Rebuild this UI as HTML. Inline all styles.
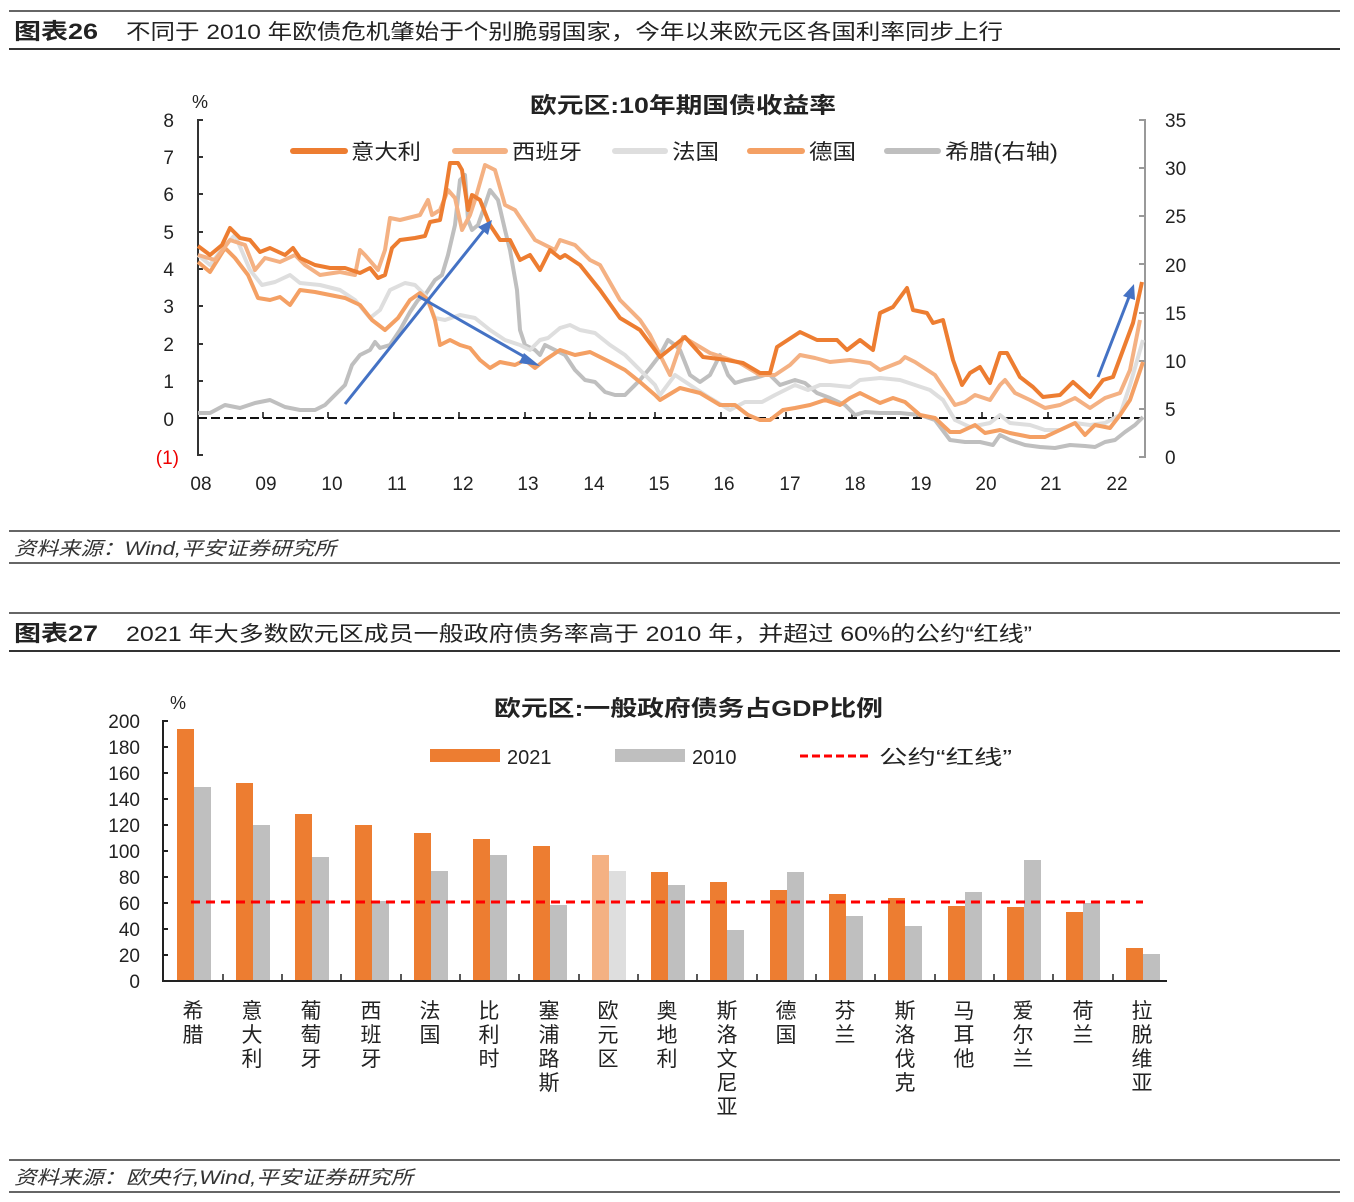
<!DOCTYPE html>
<html><head><meta charset="utf-8"><style>
body{margin:0;background:#fff;width:1354px;height:1202px;overflow:hidden}
svg{display:block}
text{font-family:"Liberation Sans","Noto Sans CJK SC",sans-serif;fill:#222}
</style></head><body>
<svg width="1354" height="1202" viewBox="0 0 1354 1202" xmlns="http://www.w3.org/2000/svg">
<!-- headers -->
<line x1="9" y1="11" x2="1340" y2="11" stroke="#333" stroke-width="1.5"/>
<line x1="9" y1="49" x2="1340" y2="49" stroke="#333" stroke-width="2"/>
<text x="14" y="39" font-size="22" font-weight="bold" textLength="84" lengthAdjust="spacingAndGlyphs">图表26</text>
<text x="126" y="39" font-size="21" textLength="877" lengthAdjust="spacingAndGlyphs">不同于 2010 年欧债危机肇始于个别脆弱国家，今年以来欧元区各国利率同步上行</text>
<line x1="9" y1="531" x2="1340" y2="531" stroke="#333" stroke-width="1.5"/>
<line x1="9" y1="563" x2="1340" y2="563" stroke="#333" stroke-width="1.5"/>
<text x="14" y="555" font-size="19" font-style="italic" style="fill:#333" textLength="322" lengthAdjust="spacingAndGlyphs">资料来源：Wind,平安证券研究所</text>

<line x1="9" y1="613" x2="1340" y2="613" stroke="#333" stroke-width="1.5"/>
<line x1="9" y1="651" x2="1340" y2="651" stroke="#333" stroke-width="2"/>
<text x="14" y="641" font-size="22" font-weight="bold" textLength="84" lengthAdjust="spacingAndGlyphs">图表27</text>
<text x="126" y="641" font-size="21" textLength="906" lengthAdjust="spacingAndGlyphs">2021 年大多数欧元区成员一般政府债务率高于 2010 年，并超过 60%的公约“红线”</text>
<line x1="9" y1="1160" x2="1340" y2="1160" stroke="#333" stroke-width="1.5"/>
<line x1="9" y1="1192" x2="1340" y2="1192" stroke="#333" stroke-width="1.5"/>
<text x="14" y="1184" font-size="19" font-style="italic" style="fill:#333" textLength="399" lengthAdjust="spacingAndGlyphs">资料来源：欧央行,Wind,平安证券研究所</text>

<!-- chart 1 -->
<text x="530" y="113" font-size="22" font-weight="bold" textLength="306" lengthAdjust="spacingAndGlyphs">欧元区:10年期国债收益率</text>
<text x="192" y="108" font-size="18">%</text>
<g font-size="19" text-anchor="end">
<text x="174" y="127">8</text><text x="174" y="164">7</text><text x="174" y="201">6</text><text x="174" y="239">5</text><text x="174" y="276">4</text><text x="174" y="313">3</text><text x="174" y="351">2</text><text x="174" y="388">1</text><text x="174" y="426">0</text><text x="179" y="464" style="fill:#e00">(1)</text>
</g>
<g font-size="19">
<text x="1165" y="127">35</text><text x="1165" y="175">30</text><text x="1165" y="223">25</text><text x="1165" y="272">20</text><text x="1165" y="320">15</text><text x="1165" y="368">10</text><text x="1165" y="416">5</text><text x="1165" y="464">0</text>
</g>
<g font-size="19" text-anchor="middle">
<text x="201" y="490">08</text><text x="266" y="490">09</text><text x="332" y="490">10</text><text x="397" y="490">11</text><text x="463" y="490">12</text><text x="528" y="490">13</text><text x="594" y="490">14</text><text x="659" y="490">15</text><text x="724" y="490">16</text><text x="790" y="490">17</text><text x="855" y="490">18</text><text x="921" y="490">19</text><text x="986" y="490">20</text><text x="1051" y="490">21</text><text x="1117" y="490">22</text>
</g>
<path d="M203,120H198V455H203 M198,157h5M198,194h5M198,232h5M198,269h5M198,306h5M198,344h5M198,381h5" stroke="#333" stroke-width="2" fill="none"/>
<path d="M1139,120H1145V457H1139 M1145,168h-6M1145,216h-6M1145,264h-6M1145,313h-6M1145,361h-6M1145,409h-6" stroke="#999" stroke-width="2" fill="none"/>
<line x1="198" y1="418" x2="1143" y2="418" stroke="#111" stroke-width="2" stroke-dasharray="9,4"/>
<path d="M263,418v-6M328,418v-6M394,418v-6M459,418v-6M525,418v-6M590,418v-6M655,418v-6M721,418v-6M786,418v-6M852,418v-6M917,418v-6M982,418v-6M1048,418v-6M1113,418v-6" stroke="#111" stroke-width="1.5"/>
<!-- legend -->
<g stroke-width="6" stroke-linecap="round">
<line x1="293" y1="151" x2="345" y2="151" stroke="#ED7D31"/>
<line x1="455" y1="151" x2="505" y2="151" stroke="#F4B183"/>
<line x1="615" y1="151" x2="665" y2="151" stroke="#DEDEDE"/>
<line x1="750" y1="151" x2="802" y2="151" stroke="#F4A064"/>
<line x1="887" y1="151" x2="938" y2="151" stroke="#BFBFBF"/>
</g>
<g font-size="21"><text x="351" y="159" textLength="70" lengthAdjust="spacingAndGlyphs">意大利</text><text x="512" y="159" textLength="70" lengthAdjust="spacingAndGlyphs">西班牙</text><text x="672" y="159" textLength="47" lengthAdjust="spacingAndGlyphs">法国</text><text x="809" y="159" textLength="47" lengthAdjust="spacingAndGlyphs">德国</text><text x="945" y="159" textLength="113" lengthAdjust="spacingAndGlyphs">希腊(右轴)</text></g>
<g fill="none" stroke-width="4" stroke-linejoin="round">
<polyline stroke="#BFBFBF" points="198,413 210,413 225,405 240,408 255,403 270,400 285,407 300,410 315,410 325,405 335,395 345,385 352,365 360,355 370,350 375,342 380,348 390,345 400,330 410,312 418,300 425,295 435,280 442,275 448,255 455,225 460,180 465,175 468,220 472,230 478,225 485,205 490,190 498,200 505,230 510,250 517,290 520,330 525,345 535,350 540,355 545,345 555,350 565,355 575,370 585,380 595,382 605,392 615,395 625,395 630,390 640,380 650,368 660,355 668,340 675,345 680,350 690,375 700,382 710,375 720,355 728,375 735,383 745,380 755,378 765,375 770,375 780,385 795,380 805,383 817,393 830,398 845,405 855,415 865,412 880,413 900,413 920,415 935,420 950,440 965,442 980,442 993,445 1000,435 1010,440 1025,445 1040,447 1055,448 1070,445 1085,446 1095,447 1105,442 1115,440 1125,432 1135,425 1143,417"/>
<polyline stroke="#DEDEDE" points="198,255 210,265 225,245 235,235 250,270 262,285 275,282 290,275 300,283 320,285 340,290 355,300 370,318 380,310 390,290 405,283 415,285 425,295 435,318 445,320 460,315 475,318 490,330 505,340 520,345 530,350 540,340 548,338 560,328 570,325 580,330 595,333 610,345 625,355 640,370 655,385 660,395 675,375 690,385 710,398 730,410 745,402 762,402 775,395 795,385 808,390 820,385 830,385 850,387 860,380 880,378 900,380 915,385 930,390 943,400 955,420 970,427 990,423 1000,415 1010,423 1030,425 1045,430 1060,430 1075,423 1090,425 1105,423 1120,415 1130,385 1143,340"/>
<polyline stroke="#F4A064" points="198,262 210,272 225,248 235,258 248,275 258,298 270,300 280,297 290,305 300,290 315,292 330,295 345,298 360,305 372,320 385,330 398,318 410,300 420,293 428,300 435,320 440,345 450,340 460,345 470,348 480,360 490,368 500,362 515,365 525,360 535,368 545,360 560,350 575,355 590,352 610,362 625,370 640,382 655,395 660,400 680,388 700,393 720,405 735,405 748,415 760,420 770,420 783,410 795,408 810,405 825,400 840,405 850,398 860,393 880,403 893,398 905,402 920,415 935,418 950,432 960,432 975,425 985,433 1000,430 1010,433 1030,437 1045,437 1060,430 1075,423 1085,435 1095,425 1110,428 1120,415 1130,400 1143,362"/>
<polyline stroke="#F4B183" points="198,255 215,260 230,240 245,245 255,270 265,258 280,262 295,255 305,265 320,275 340,272 355,275 360,250 365,255 378,270 385,250 390,218 400,220 420,215 428,200 432,215 440,210 448,190 455,198 462,230 470,215 475,200 485,165 495,170 505,205 515,210 525,225 535,240 545,245 555,250 560,240 575,245 590,260 600,265 620,300 640,320 650,335 660,355 670,375 683,337 700,347 710,353 740,363 760,375 775,375 790,365 800,355 815,358 830,362 850,360 870,363 880,370 900,362 905,357 915,362 935,375 945,390 955,405 965,402 975,395 990,400 1000,385 1005,380 1015,393 1030,400 1045,408 1060,405 1075,398 1090,408 1105,398 1120,393 1130,370 1140,320"/>
<polyline stroke="#ED7D31" points="198,246 210,255 222,245 230,228 240,238 250,240 260,252 270,248 285,255 293,248 300,258 315,265 330,268 345,268 360,273 370,268 378,278 385,275 392,248 400,240 415,238 425,236 430,222 440,220 445,195 450,163 458,163 462,170 468,210 472,195 480,200 490,225 500,240 510,240 520,260 530,255 540,270 550,250 560,258 565,255 580,265 600,290 620,318 640,330 655,350 660,357 685,337 703,357 727,360 743,363 760,373 770,373 777,347 800,332 817,340 837,340 847,350 860,340 873,350 880,313 893,307 907,288 913,310 927,313 933,323 943,320 953,360 962,385 970,373 980,367 990,383 1000,353 1007,353 1020,377 1033,387 1043,397 1060,395 1073,382 1090,397 1103,380 1113,377 1123,350 1133,323 1142,282"/>
</g>
<g stroke="#4472C4" stroke-width="3" fill="#4472C4">
<line x1="345" y1="404" x2="484" y2="230"/><polygon points="492,220 478,227 488,235" stroke="none"/>
<line x1="418" y1="296" x2="530" y2="360"/><polygon points="540,366 524,353 519,363" stroke="none"/>
<line x1="1098" y1="377" x2="1129" y2="297"/><polygon points="1134,284 1123,296 1135,300" stroke="none"/>
</g>

<!-- chart 2 -->
<text x="494" y="716" font-size="22" font-weight="bold" textLength="389" lengthAdjust="spacingAndGlyphs">欧元区:一般政府债务占GDP比例</text>
<text x="170" y="709" font-size="18">%</text>
<g font-size="19" text-anchor="end">
<text x="140" y="728">200</text><text x="140" y="754">180</text><text x="140" y="780">160</text><text x="140" y="806">140</text><text x="140" y="832">120</text><text x="140" y="858">100</text><text x="140" y="884">80</text><text x="140" y="910">60</text><text x="140" y="936">40</text><text x="140" y="962">20</text><text x="140" y="988">0</text>
</g>
<rect x="430" y="749" width="70" height="13" fill="#ED7D31"/><text x="507" y="764" font-size="20">2021</text>
<rect x="615" y="749" width="70" height="13" fill="#BFBFBF"/><text x="692" y="764" font-size="20">2010</text>
<line x1="800" y1="756" x2="872" y2="756" stroke="#f00" stroke-width="3" stroke-dasharray="8,4"/><text x="879" y="764" font-size="20" textLength="133" lengthAdjust="spacingAndGlyphs">公约“红线”</text>
<g id="bars">
<rect x="177" y="729" width="17" height="251" fill="#ED7D31"/><rect x="194" y="787" width="17" height="193" fill="#BFBFBF"/>
<rect x="236" y="783" width="17" height="197" fill="#ED7D31"/><rect x="253" y="825" width="17" height="155" fill="#BFBFBF"/>
<rect x="295" y="814" width="17" height="166" fill="#ED7D31"/><rect x="312" y="857" width="17" height="123" fill="#BFBFBF"/>
<rect x="355" y="825" width="17" height="155" fill="#ED7D31"/><rect x="372" y="901" width="17" height="79" fill="#BFBFBF"/>
<rect x="414" y="833" width="17" height="147" fill="#ED7D31"/><rect x="431" y="871" width="17" height="109" fill="#BFBFBF"/>
<rect x="473" y="839" width="17" height="141" fill="#ED7D31"/><rect x="490" y="855" width="17" height="125" fill="#BFBFBF"/>
<rect x="533" y="846" width="17" height="134" fill="#ED7D31"/><rect x="550" y="905" width="17" height="75" fill="#BFBFBF"/>
<rect x="592" y="855" width="17" height="125" fill="#F4B183"/><rect x="609" y="871" width="17" height="109" fill="#DEDEDE"/>
<rect x="651" y="872" width="17" height="108" fill="#ED7D31"/><rect x="668" y="885" width="17" height="95" fill="#BFBFBF"/>
<rect x="710" y="882" width="17" height="98" fill="#ED7D31"/><rect x="727" y="930" width="17" height="50" fill="#BFBFBF"/>
<rect x="770" y="890" width="17" height="90" fill="#ED7D31"/><rect x="787" y="872" width="17" height="108" fill="#BFBFBF"/>
<rect x="829" y="894" width="17" height="86" fill="#ED7D31"/><rect x="846" y="916" width="17" height="64" fill="#BFBFBF"/>
<rect x="888" y="898" width="17" height="82" fill="#ED7D31"/><rect x="905" y="926" width="17" height="54" fill="#BFBFBF"/>
<rect x="948" y="906" width="17" height="74" fill="#ED7D31"/><rect x="965" y="892" width="17" height="88" fill="#BFBFBF"/>
<rect x="1007" y="907" width="17" height="73" fill="#ED7D31"/><rect x="1024" y="860" width="17" height="120" fill="#BFBFBF"/>
<rect x="1066" y="912" width="17" height="68" fill="#ED7D31"/><rect x="1083" y="903" width="17" height="77" fill="#BFBFBF"/>
<rect x="1126" y="948" width="17" height="32" fill="#ED7D31"/><rect x="1143" y="954" width="17" height="26" fill="#BFBFBF"/>
</g>
<line x1="191" y1="902" x2="1143" y2="902" stroke="#f00" stroke-width="3" stroke-dasharray="9,6"/>
<path d="M168,721H163V981H1167 M163,747h5M163,773h5M163,799h5M163,825h5M163,851h5M163,877h5M163,903h5M163,929h5M163,955h5" stroke="#222" stroke-width="2" fill="none"/>
<path d="M223,981v-7M282,981v-7M341,981v-7M401,981v-7M460,981v-7M519,981v-7M579,981v-7M638,981v-7M697,981v-7M757,981v-7M816,981v-7M875,981v-7M935,981v-7M994,981v-7M1053,981v-7M1113,981v-7" stroke="#222" stroke-width="1.5"/>
<g font-size="21" text-anchor="middle">
<text x="193" y="1018">希</text><text x="193" y="1042">腊</text>
<text x="252" y="1018">意</text><text x="252" y="1042">大</text><text x="252" y="1066">利</text>
<text x="311" y="1018">葡</text><text x="311" y="1042">萄</text><text x="311" y="1066">牙</text>
<text x="371" y="1018">西</text><text x="371" y="1042">班</text><text x="371" y="1066">牙</text>
<text x="430" y="1018">法</text><text x="430" y="1042">国</text>
<text x="489" y="1018">比</text><text x="489" y="1042">利</text><text x="489" y="1066">时</text>
<text x="549" y="1018">塞</text><text x="549" y="1042">浦</text><text x="549" y="1066">路</text><text x="549" y="1090">斯</text>
<text x="608" y="1018">欧</text><text x="608" y="1042">元</text><text x="608" y="1066">区</text>
<text x="667" y="1018">奥</text><text x="667" y="1042">地</text><text x="667" y="1066">利</text>
<text x="727" y="1018">斯</text><text x="727" y="1042">洛</text><text x="727" y="1066">文</text><text x="727" y="1090">尼</text><text x="727" y="1114">亚</text>
<text x="786" y="1018">德</text><text x="786" y="1042">国</text>
<text x="845" y="1018">芬</text><text x="845" y="1042">兰</text>
<text x="905" y="1018">斯</text><text x="905" y="1042">洛</text><text x="905" y="1066">伐</text><text x="905" y="1090">克</text>
<text x="964" y="1018">马</text><text x="964" y="1042">耳</text><text x="964" y="1066">他</text>
<text x="1023" y="1018">爱</text><text x="1023" y="1042">尔</text><text x="1023" y="1066">兰</text>
<text x="1083" y="1018">荷</text><text x="1083" y="1042">兰</text>
<text x="1142" y="1018">拉</text><text x="1142" y="1042">脱</text><text x="1142" y="1066">维</text><text x="1142" y="1090">亚</text>
</g>
</svg>
</body></html>
